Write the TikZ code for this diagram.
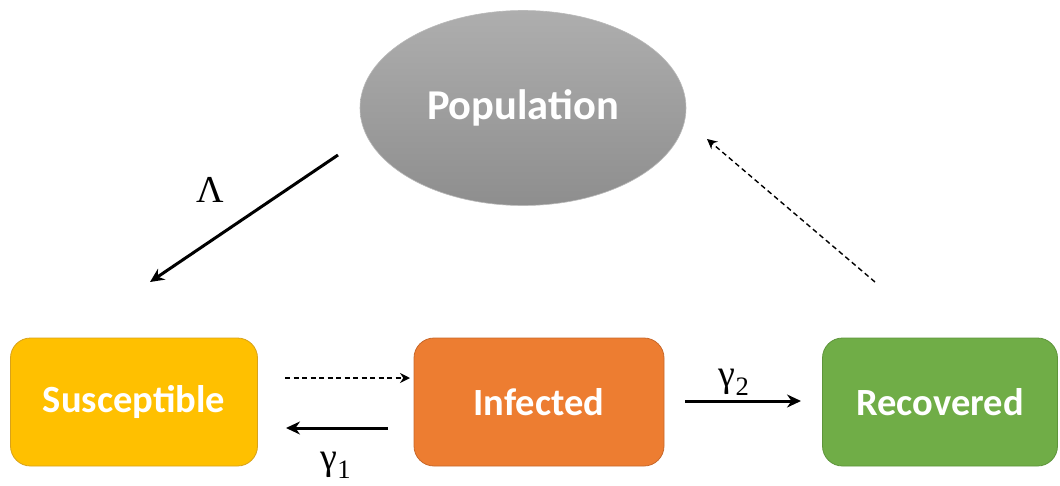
\documentclass[tikz,border=0pt]{standalone}
\usepackage{fontspec}
\setmainfont{Carlito}
\newfontfamily\lblfont{Liberation Serif}
\usetikzlibrary{arrows.meta,shapes.geometric}
\definecolor{suscol}{HTML}{FFC000}
\definecolor{susedge}{HTML}{D8A21A}
\definecolor{infcol}{HTML}{ED7D31}
\definecolor{infedge}{HTML}{C8682A}
\definecolor{reccol}{HTML}{70AD47}
\definecolor{recedge}{HTML}{5E953B}
\definecolor{poptop}{HTML}{AEAEAE}
\definecolor{popbot}{HTML}{8E8E8E}
\tikzset{
  statebox/.style={rectangle, rounded corners=20pt, minimum width=247pt, minimum height=128pt, line width=0.8pt, text=white, font=\fontsize{38.5}{40}\selectfont\bfseries, inner sep=0pt},
  popnode/.style={ellipse, minimum width=326pt, minimum height=195pt, top color=poptop, bottom color=popbot, draw=gray!55, line width=0.6pt, text=white, font=\fontsize{42.5}{44}\selectfont\bfseries, inner sep=0pt},
  flowsolid/.style={line width=3pt, -{Stealth[length=14pt,width=13pt]}},
  flowdash/.style={line width=1.4pt, dash pattern=on 5pt off 3.5pt, -{Stealth[length=10pt,width=10pt]}},
  ratelbl/.style={font=\lblfont\fontsize{38}{40}\selectfont, inner sep=0pt}
}
\begin{document}
\begin{tikzpicture}[x=1pt,y=-1pt]
\useasboundingbox (0,0) rectangle (1060,485);
\node[popnode] (pop) at (523,108) {\raisebox{-2pt}{Population}};
\node[statebox, fill=suscol, draw=susedge] (sus) at (134,402) {Susceptible};
\node[statebox, fill=infcol, draw=infedge, minimum width=250pt] (inf) at (539,402) {Infected};
\node[statebox, fill=reccol, draw=recedge, minimum width=235pt] (rec) at (940,402) {Recovered};
% connector end points
\coordinate (lamA) at (338,155);
\coordinate (lamB) at (150,282);
\coordinate (siA) at (285,378);
\coordinate (siB) at (410,378);
\coordinate (isA) at (388,428);
\coordinate (isB) at (286,428);
\coordinate (irA) at (685,401);
\coordinate (irB) at (801,401);
\coordinate (rpA) at (875,282);
\coordinate (rpB) at (707,139);
\draw[flowsolid] (lamA) -- (lamB);
\draw[flowdash] (siA) -- (siB);
\draw[flowsolid] (isA) -- (isB);
\draw[flowsolid] (irA) -- (irB);
\draw[flowdash] (rpA) -- (rpB);
\node[ratelbl] (lam) at (210,190) {Λ};
\node[ratelbl] (g1) at (336,465) {γ\textsubscript{1}};
\node[ratelbl] (g2) at (734,382) {γ\textsubscript{2}};
\end{tikzpicture}
\end{document}
